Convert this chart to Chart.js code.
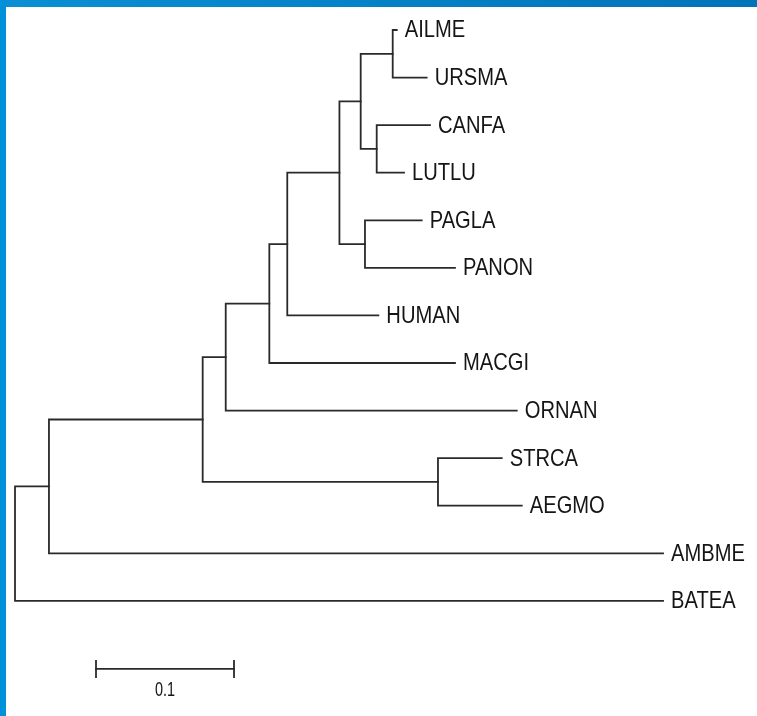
<!DOCTYPE html>
<html>
<head>
<meta charset="utf-8">
<script src="https://cdn.jsdelivr.net/npm/chart.js@4/dist/chart.umd.min.js"></script>
<style>
  html, body { margin: 0; padding: 0; background: #fff; }
  #wrap { position: relative; width: 757px; height: 716px; overflow: hidden; }
  #topbar { position: absolute; left: 0; top: 0; width: 757px; height: 7px;
            background: linear-gradient(to right, #0a8fd4, #0073b9); }
  #leftbar { position: absolute; left: 0; top: 0; width: 6px; height: 716px; background: #0091d8; }
  canvas { position: absolute; left: 0; top: 0; }
</style>
</head>
<body>
<div id="wrap">
  <canvas id="tree" width="757" height="716"></canvas>
  <div id="topbar"></div>
  <div id="leftbar"></div>
</div>
<script>
// === Taxa (Reihenfolge von oben nach unten) und Tiefe der Blätter ===
const taxa = ['AILME', 'URSMA', 'CANFA', 'LUTLU', 'PAGLA', 'PANON', 'HUMAN',
              'MACGI', 'ORNAN', 'STRCA', 'AEGMO', 'AMBME', 'BATEA'];
const tipDepth = [0.2766, 0.2983, 0.3007, 0.2819, 0.2947, 0.3188, 0.2633,
                  0.3188, 0.3636, 0.3527, 0.3672, 0.4696, 0.4696];

// === Innere Knoten: Tiefe und Kinder ===
const nodeNames = ['n0', 'n1', 'n2', 'n3', 'n4', 'n5', 'n6', 'n7', 'n8', 'n9', 'n10', 'root'];
const nodeDepth = [0.2737, 0.2621, 0.2505, 0.2536, 0.2351, 0.1973, 0.1843, 0.1527, 0.3065, 0.1360, 0.0246, 0];
const nodeChildren = [
    ['AILME', 'URSMA'],
    ['CANFA', 'LUTLU'],
    ['n0', 'n1'],
    ['PAGLA', 'PANON'],
    ['n2', 'n3'],
    ['n4', 'HUMAN'],
    ['n5', 'MACGI'],
    ['n6', 'ORNAN'],
    ['STRCA', 'AEGMO'],
    ['n7', 'n8'],
    ['n9', 'AMBME'],
    ['n10', 'BATEA']
];

// === Maßstab ===
const scaleBarX = [0.0587, 0.1587];
const scaleBarRow = 13.43;
const scaleBarLabel = '0.1';

// Position (x = Tiefe, y = Zeile) für jeden Namen
const pos = {};
taxa.forEach((t, i) => { pos[t] = { x: tipDepth[i], y: i }; });
nodeNames.forEach((n, i) => {
    const kids = nodeChildren[i].map(k => pos[k]);
    pos[n] = { x: nodeDepth[i], y: (kids[0].y + kids[1].y) / 2 };
});

// Ein Dataset pro Knoten: Kind1 -> Knoten -> Kind2
const datasets = nodeNames.map((n, i) => {
    const a = pos[nodeChildren[i][0]];
    const b = pos[nodeChildren[i][1]];
    const d = pos[n].x;
    return {
        data: [{ x: a.x, y: a.y }, { x: d, y: a.y }, { x: d, y: b.y }, { x: b.x, y: b.y }],
        borderColor: '#2a2a2a',
        borderWidth: 1.8,
        pointRadius: 0,
        fill: false,
        tension: 0
    };
});

datasets.push({
    data: scaleBarX.map(x => ({ x: x, y: scaleBarRow })),
    borderColor: '#2a2a2a',
    borderWidth: 1.8,
    pointRadius: 0,
    fill: false
});

// === Beschriftungen + Maßstabsenden ===
const labelPlugin = {
    id: 'treeLabels',
    afterDatasetsDraw(chart) {
        const ctx = chart.ctx;
        const xs = chart.scales.x, ys = chart.scales.y;
        ctx.save();
        ctx.fillStyle = '#151515';
        ctx.textBaseline = 'middle';
        ctx.font = '21px "Liberation Sans", Arial, sans-serif';
        taxa.forEach((t, i) => {
            const px = xs.getPixelForValue(tipDepth[i]) + 8;
            const py = ys.getPixelForValue(i) + 1;
            ctx.save();
            ctx.translate(px, py);
            ctx.scale(0.96, 1.12);
            ctx.fillText(t, 0, 0);
            ctx.restore();
        });

        // Maßstab: Endstriche und Text
        const y0 = ys.getPixelForValue(scaleBarRow);
        ctx.strokeStyle = '#2a2a2a';
        ctx.lineWidth = 1.8;
        scaleBarX.forEach(x => {
            const px = xs.getPixelForValue(x);
            ctx.beginPath();
            ctx.moveTo(px, y0 - 9);
            ctx.lineTo(px, y0 + 9);
            ctx.stroke();
        });
        const mid = (xs.getPixelForValue(scaleBarX[0]) + xs.getPixelForValue(scaleBarX[1])) / 2;
        ctx.font = '17px "Liberation Sans", Arial, sans-serif';
        ctx.textAlign = 'center';
        ctx.save();
        ctx.translate(mid, y0 + 21);
        ctx.scale(0.85, 1.2);
        ctx.fillText(scaleBarLabel, 0, 0);
        ctx.restore();
        ctx.restore();
    }
};

new Chart(document.getElementById('tree'), {
    type: 'line',
    data: { datasets: datasets },
    options: {
        responsive: false,
        animation: false,
        layout: { padding: { left: 15, top: 30, right: 52, bottom: 20 } },
        plugins: {
            legend: { display: false },
            tooltip: { enabled: false }
        },
        scales: {
            x: { type: 'linear', min: 0, max: 0.5, display: false },
            y: { type: 'linear', min: 0, max: 14, reverse: true, display: false }
        },
        elements: { line: { borderCapStyle: 'square' } },
        clip: false
    },
    plugins: [labelPlugin]
});
</script>
</body>
</html>
